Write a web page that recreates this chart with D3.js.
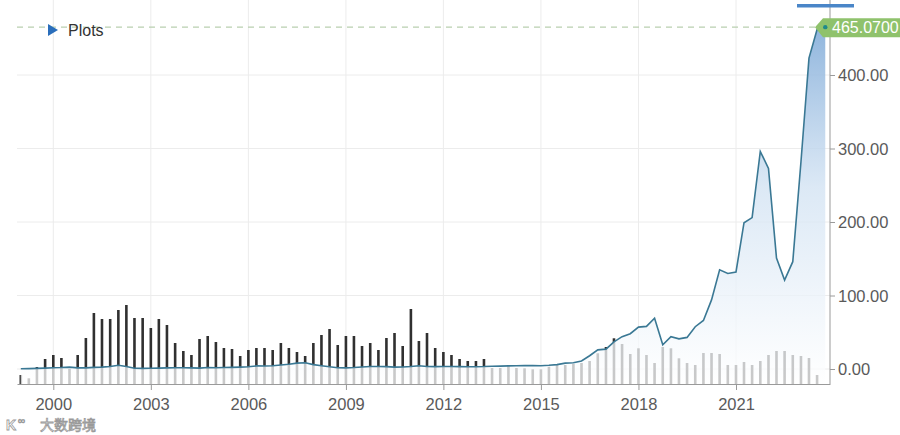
<!DOCTYPE html>
<html>
<head>
<meta charset="utf-8">
<script src="https://cdn.jsdelivr.net/npm/d3@7"></script>
<style>
  body { margin: 0; background: #fff; }
  svg { display: block; font-family: "Liberation Sans", Arial, sans-serif; }
  .grid line { stroke: #ececec; }
  .axis text { fill: #5a5a5a; font-size: 16.5px; }
</style>
</head>
<body>
<div class="chart"></div>
<script>
// quarter start dates (1999 Q1 .. 2023 Q4)
var quarters = [
  "1999-01","1999-04","1999-07","1999-10","2000-01","2000-04","2000-07","2000-10",
  "2001-01","2001-04","2001-07","2001-10","2002-01","2002-04","2002-07","2002-10",
  "2003-01","2003-04","2003-07","2003-10","2004-01","2004-04","2004-07","2004-10",
  "2005-01","2005-04","2005-07","2005-10","2006-01","2006-04","2006-07","2006-10",
  "2007-01","2007-04","2007-07","2007-10","2008-01","2008-04","2008-07","2008-10",
  "2009-01","2009-04","2009-07","2009-10","2010-01","2010-04","2010-07","2010-10",
  "2011-01","2011-04","2011-07","2011-10","2012-01","2012-04","2012-07","2012-10",
  "2013-01","2013-04","2013-07","2013-10","2014-01","2014-04","2014-07","2014-10",
  "2015-01","2015-04","2015-07","2015-10","2016-01","2016-04","2016-07","2016-10",
  "2017-01","2017-04","2017-07","2017-10","2018-01","2018-04","2018-07","2018-10",
  "2019-01","2019-04","2019-07","2019-10","2020-01","2020-04","2020-07","2020-10",
  "2021-01","2021-04","2021-07","2021-10","2022-01","2022-04","2022-07","2022-10",
  "2023-01","2023-04","2023-07","2023-10"
];

// closing price per quarter
var price = [
  0.4, 0.5, 0.8, 1.2,   1.8, 2, 2.5, 1.5,
  1.5, 2.2, 2.5, 3.5,   5, 3.5, 1, 0.8,
  1, 1.2, 1.5, 1.7,     1.8, 1.5, 1.2, 2,
  1.8, 2, 2.2, 2.6,     3, 4.2, 4, 4.5,
  5.5, 6.5, 8, 8.5,     6, 4.5, 3, 1.8,
  1.5, 2, 2.8, 3.5,     3.5, 3.2, 2.5, 2.8,
  3.5, 4.5, 3.5, 3.2,   3.3, 3.5, 3.2, 3,
  3.1, 3.3, 3.8, 3.9,   4.2, 4.5, 4.6, 4.8,
  4.5, 5, 6, 8,         8.5, 11, 18, 26,
  27, 37, 44, 48,       57, 58, 69, 33,
  44, 41, 43, 57.5,     66, 94, 135, 130,
  132, 199, 206, 296,   273, 151, 121, 146,
  282, 423, 462, 465.07
];

// traded volume per quarter (1999 Q1 .. 2023 Q3)
var volume = [
  9, 5.7, 17, 25,       29, 26, 15, 29,
  46, 71, 65, 65,       74, 79, 66, 66,
  56, 65, 59, 41,       33, 29, 45, 48,
  42, 36, 35, 28,       34, 36, 36, 34,
  41, 36, 32, 28,       41, 49, 55, 39,
  48, 48, 38, 41,       34, 46, 51, 38,
  75, 43, 51, 36,       32, 29, 25, 23,
  23, 25, 16, 16,       19, 16, 15.7, 14.7,
  14.7, 17.3, 19, 19,   20, 21, 23, 30.7,
  37, 45.7, 40, 30,     35.7, 29, 21, 37,
  35.7, 25.7, 21, 19,   31, 31, 30, 19,
  19, 22, 19, 23,       29, 33, 33, 29,
  28, 26, 9
];

var yearTicks = [2000, 2003, 2006, 2009, 2012, 2015, 2018, 2021];
var priceTicks = [0, 100, 200, 300, 400];
var lastPrice = 465.07;

var width = 900, height = 435;
var plot = {left: 17, right: 830, top: 0, bottom: 384};

var parse = d3.timeParse("%Y-%m");
var dates = quarters.map(parse);

var x = d3.scaleTime()
    .domain([new Date(2000, 0, 1), new Date(2021, 0, 1)])
    .range([53.3, 736]);
x.domain([x.invert(plot.left), x.invert(plot.right)]).range([plot.left, plot.right]);

var y = d3.scaleLinear()
    .domain([0, 400])
    .range([369, 75]);

var yVol = d3.scaleLinear()
    .domain([0, 100])
    .range([plot.bottom, plot.bottom - 100]);

var svg = d3.select(".chart").append("svg")
    .attr("width", width)
    .attr("height", height);

var defs = svg.append("defs");
var grad = defs.append("linearGradient")
    .attr("id", "areaFill")
    .attr("gradientUnits", "userSpaceOnUse")
    .attr("x1", 0).attr("x2", 0)
    .attr("y1", y(lastPrice)).attr("y2", plot.bottom);
grad.append("stop").attr("offset", "0%").attr("stop-color", "#86afda").attr("stop-opacity", 0.92);
grad.append("stop").attr("offset", "45%").attr("stop-color", "#d3e3f3").attr("stop-opacity", 0.8);
grad.append("stop").attr("offset", "100%").attr("stop-color", "#ffffff").attr("stop-opacity", 0.74);

// grid
var grid = svg.append("g").attr("class", "grid");
grid.selectAll(".hgrid")
    .data(priceTicks)
  .enter().append("line")
    .attr("x1", plot.left).attr("x2", plot.right)
    .attr("y1", function(d) { return y(d); })
    .attr("y2", function(d) { return y(d); });
grid.selectAll(".vgrid")
    .data(yearTicks)
  .enter().append("line")
    .attr("x1", function(d) { return x(new Date(d, 0, 1)); })
    .attr("x2", function(d) { return x(new Date(d, 0, 1)); })
    .attr("y1", plot.top).attr("y2", plot.bottom);

// last price dashed line
svg.append("line")
    .attr("x1", plot.left).attr("x2", 816)
    .attr("y1", y(lastPrice)).attr("y2", y(lastPrice))
    .attr("stroke", "#b9d0b0")
    .attr("stroke-width", 1.2)
    .attr("stroke-dasharray", "6,5");

// volume bars
svg.selectAll(".bar")
    .data(volume)
  .enter().append("rect")
    .attr("class", "bar")
    .attr("x", function(d, i) { return x(dates[i]) - 1.3; })
    .attr("width", 2.6)
    .attr("y", function(d) { return yVol(d); })
    .attr("height", function(d) { return plot.bottom - yVol(d); })
    .attr("fill", "#303030");

// price area + line
var area = d3.area()
    .x(function(d, i) { return x(dates[i]); })
    .y0(plot.bottom)
    .y1(function(d) { return y(d); });

var line = d3.line()
    .x(function(d, i) { return x(dates[i]); })
    .y(function(d) { return y(d); });

svg.append("path")
    .datum(price)
    .attr("d", area)
    .attr("fill", "url(#areaFill)");

svg.append("path")
    .datum(price)
    .attr("d", line)
    .attr("fill", "none")
    .attr("stroke", "#3a7894")
    .attr("stroke-width", 1.6);

// x axis
var xAxis = d3.axisBottom(x)
    .tickValues(yearTicks.map(function(d) { return new Date(d, 0, 1); }))
    .tickFormat(d3.timeFormat("%Y"))
    .tickSize(6)
    .tickSizeOuter(0);

var gx = svg.append("g")
    .attr("class", "axis")
    .attr("transform", "translate(0," + plot.bottom + ")")
    .call(xAxis);
gx.select(".domain").attr("stroke", "#9a9a9a");
gx.selectAll(".tick line").attr("stroke", "#9a9a9a");
gx.selectAll(".tick text").attr("dy", "1.05em");

// y axis (right)
var yAxis = d3.axisRight(y)
    .tickValues(priceTicks)
    .tickFormat(d3.format(".2f"))
    .tickSize(5)
    .tickSizeOuter(0);

var gy = svg.append("g")
    .attr("class", "axis")
    .attr("transform", "translate(" + plot.right + ",0)")
    .call(yAxis);
gy.select(".domain").attr("d", "M0," + plot.top + "V" + plot.bottom).attr("stroke", "#9a9a9a");
gy.selectAll(".tick line").attr("stroke", "#9a9a9a");
gy.selectAll(".tick text").attr("x", 8).attr("fill", "#444").attr("dy", "0.36em");

// last price marker and label
var ly = y(lastPrice);
svg.append("path")
    .attr("d", "M815," + ly + "L823," + (ly - 9) + "H900V" + (ly + 10) + "H823Z")
    .attr("fill", "#8fc26c");
svg.append("circle")
    .attr("cx", x(dates[dates.length - 1]))
    .attr("cy", ly)
    .attr("r", 2.2)
    .attr("fill", "#1f8a8a");
svg.append("text")
    .attr("x", 832)
    .attr("y", ly + 6)
    .attr("fill", "#fff")
    .style("font-size", "16px")
    .text(d3.format(".4f")(lastPrice));

// navigator marker on top
svg.append("rect")
    .attr("x", 797).attr("y", 4)
    .attr("width", 57).attr("height", 3.5)
    .attr("fill", "#4a86c8");

// legend
var legend = svg.append("g").attr("transform", "translate(48,30)");
legend.append("path")
    .attr("d", "M0,-6L10,0L0,6Z")
    .attr("fill", "#2a6ebb");
legend.append("text")
    .attr("x", 20)
    .attr("y", 6)
    .attr("fill", "#333")
    .style("font-size", "16px")
    .text("Plots");

// watermark
var wm = svg.append("g").attr("transform", "translate(6,430)");
wm.append("text")
    .attr("x", 0)
    .attr("fill", "#fff")
    .attr("stroke", "#9a9a9a")
    .attr("stroke-width", 0.8)
    .style("font-size", "14px")
    .style("font-weight", "bold")
    .text("K");
wm.append("text")
    .attr("x", 12).attr("y", -6)
    .attr("fill", "#fff")
    .attr("stroke", "#9a9a9a")
    .attr("stroke-width", 0.7)
    .style("font-size", "10px")
    .text("∞");
wm.append("text")
    .attr("x", 34)
    .attr("fill", "#fff")
    .attr("stroke", "#9a9a9a")
    .attr("stroke-width", 0.8)
    .style("font-family", "'Noto Sans CJK SC', sans-serif")
    .style("font-size", "14px")
    .text("大数跨境");
</script>
</body>
</html>
